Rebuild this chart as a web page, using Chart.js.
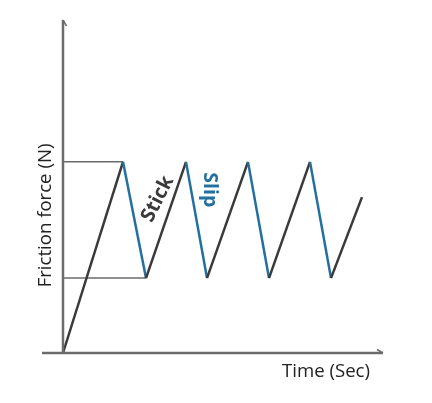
<!DOCTYPE html>
<html>
<head>
<meta charset="utf-8">
<script src="https://cdn.jsdelivr.net/npm/chart.js@4.4.1/dist/chart.umd.min.js"></script>
<style>
  html, body { margin: 0; padding: 0; background: #fff; }
  #wrap { width: 432px; height: 403px; }
</style>
</head>
<body>
<div id="wrap"><canvas id="myChart" width="432" height="403"></canvas></div>
<script>
// stick-slip friction trace
var timeValues  = [0, 3, 4.15, 6.15, 7.2, 9.25, 10.3, 12.35, 13.4, 14.95];
var forceValues = [0, 57.4, 22.5, 57.4, 22.5, 57.4, 22.5, 57.4, 22.5, 46.8];
var staticLevel = 57.4;   // peak force
var kineticLevel = 22.5;  // trough force
var xTitle = "Time (Sec)";
var yTitle = "Friction force (N)";

var stickColor = "#3a3a3a";
var slipColor = "#23709e";
var axisColor = "#6b6b6b";

var tracePoints = timeValues.map(function (t, i) {
    return { x: t, y: forceValues[i] };
});

var ctx = document.getElementById("myChart");

var annotate = {
    id: "annotate",
    afterDatasetsDraw: function (chart) {
        var c = chart.ctx;
        var xs = chart.scales.x, ys = chart.scales.y;
        var ox = xs.getPixelForValue(0), oy = ys.getPixelForValue(0);
        var area = chart.chartArea;

        c.save();
        c.strokeStyle = axisColor;
        c.lineWidth = 2.5;
        c.lineCap = "butt";
        // y axis + arrow barb
        c.beginPath();
        c.moveTo(ox, oy + 1);
        c.lineTo(ox, area.top);
        c.stroke();
        c.lineWidth = 1.5;
        c.beginPath();
        c.moveTo(ox, area.top);
        c.lineTo(ox + 3.5, area.top + 6);
        c.stroke();
        // x axis + arrow barb
        c.lineWidth = 2.5;
        c.beginPath();
        c.moveTo(area.left, oy);
        c.lineTo(area.right, oy);
        c.stroke();
        c.lineWidth = 1.5;
        c.beginPath();
        c.moveTo(area.right, oy);
        c.lineTo(area.right - 6, oy - 3.5);
        c.stroke();

        // axis titles
        c.fillStyle = "#222";
        c.font = "18.6px 'Open Sans'";
        c.textAlign = "center";
        c.textBaseline = "middle";
        c.fillText(xTitle, area.right - 57, oy + 19);
        c.save();
        c.translate(46, (oy + area.top) / 2 + 29);
        c.rotate(-Math.PI / 2);
        c.fillText(yTitle, 0, 0);
        c.restore();

        // Stick / Slip labels next to the second tooth
        var meta = chart.getDatasetMeta(0).data;
        var p2 = meta[2], p3 = meta[3], p4 = meta[4];
        c.font = "bold 20px 'Open Sans'";
        var t = 0.68;
        var sx = p2.x + (p3.x - p2.x) * t - 15.5;
        var sy = p2.y + (p3.y - p2.y) * t;
        c.save();
        c.translate(sx, sy);
        c.rotate(-63 * Math.PI / 180);
        c.fillStyle = stickColor;
        c.fillText("Stick", 0, 0);
        c.restore();

        c.font = "bold 19.5px 'Open Sans'";
        var u = 0.24;
        var lx = p3.x + (p4.x - p3.x) * u + 19;
        var ly = p3.y + (p4.y - p3.y) * u;
        c.save();
        c.translate(lx, ly);
        c.rotate(Math.PI / 2);
        c.fillStyle = slipColor;
        c.fillText("Slip", 0, 0);
        c.restore();
        c.restore();
    }
};

var myChart = new Chart(ctx, {
    type: "line",
    data: {
        datasets: [
            {
                data: tracePoints,
                borderWidth: 2.5,
                pointRadius: 0,
                tension: 0,
                clip: false,
                segment: {
                    borderColor: function (s) {
                        return s.p1.parsed.y > s.p0.parsed.y ? stickColor : slipColor;
                    }
                }
            },
            {
                data: [{ x: 0, y: staticLevel }, { x: timeValues[1], y: staticLevel }],
                borderColor: axisColor,
                borderWidth: 1.5,
                pointRadius: 0
            },
            {
                data: [{ x: 0, y: kineticLevel }, { x: timeValues[2], y: kineticLevel }],
                borderColor: axisColor,
                borderWidth: 1.5,
                pointRadius: 0
            }
        ]
    },
    options: {
        responsive: false,
        animation: false,
        layout: { padding: { left: 42, right: 49, top: 20, bottom: 50 } },
        plugins: { legend: { display: false }, tooltip: { enabled: false } },
        scales: {
            x: { type: "linear", min: -1.05, max: 16, display: false },
            y: { type: "linear", min: 0, max: 100, display: false }
        }
    },
    plugins: [annotate]
});
</script>
</body>
</html>
